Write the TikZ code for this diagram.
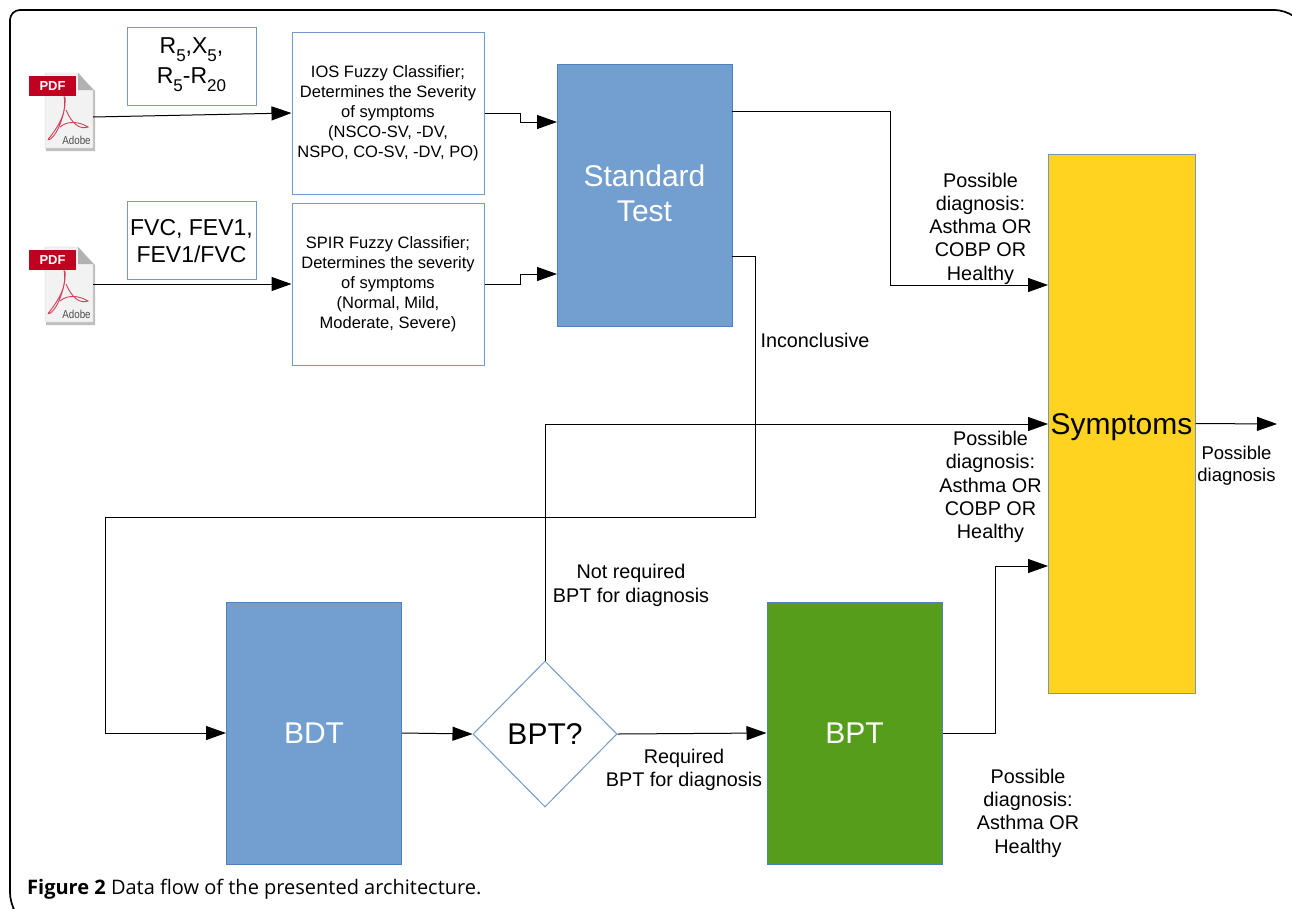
\documentclass[tikz,border=0pt]{standalone}
\usepackage{fontspec}
\setmainfont{Liberation Sans}
\newfontfamily\capfont{Open Sans}
\usetikzlibrary{arrows.meta,shapes.geometric}
\definecolor{boxblue}{HTML}{729FCF}
\definecolor{edgeblue}{HTML}{4F81BD}
\definecolor{symyellow}{HTML}{FFD320}
\definecolor{symedge}{HTML}{7B96AE}
\definecolor{bptgreen}{HTML}{579D1C}
\definecolor{pdfred}{HTML}{C00020}
\newcommand{\lowsub}[1]{\raisebox{-0.6ex}{\fontsize{17}{17}\selectfont #1}}
\tikzset{
	inbox/.style={draw=edgeblue!80,line width=1pt,fill=white,inner sep=0pt,align=center},
	classbox/.style={inbox,minimum width=192pt,minimum height=162pt,font=\fontsize{16.5}{20}\selectfont},
	valbox/.style={inbox,minimum width=129pt,minimum height=78pt,font=\fontsize{23}{27}\selectfont},
	bluebox/.style={draw=edgeblue,line width=1pt,fill=boxblue,text=white,inner sep=0pt,minimum width=175pt,minimum height=262pt,align=center,font=\fontsize{30}{35}\selectfont},
	label/.style={align=center,inner sep=0pt,font=\fontsize{19.8}{23.3}\selectfont},
	flow/.style={line width=1pt,-{Triangle[length=20pt,width=14pt]}},
	pdfdoc/.pic={
		\fill[black!25] (46,75) -- (80,75) -- (95,91) -- (95,151) -- (46,151) -- cycle;
		\filldraw[fill=black!5,draw=black!22] (45,73) -- (78,73) -- (93,90) -- (93,148) -- (45,148) -- cycle;
		\fill[black!30] (78,73) -- (93,90) -- (78,90) -- cycle;
		\draw[pdfred!75,line width=0.9pt] (64,96) .. controls (67,112) and (60,124) .. (50,137)
			.. controls (45,142) and (52,141) .. (58,129) .. controls (62,120) and (66,108) .. (65,97);
		\draw[pdfred!75,line width=0.9pt] (60,127) .. controls (68,120) and (80,122) .. (88,127)
			.. controls (80,130) and (72,124) .. (66,110);
		\fill[pdfred] (29,76) rectangle (76,96);
		\node[text=white,inner sep=0pt,font=\bfseries\fontsize{13}{13}\selectfont] (-tag) at (52.5,86) {PDF};
		\node[text=black!70,inner sep=0pt,xscale=0.85,font=\fontsize{11.5}{12}\selectfont] (-maker) at (76.5,140) {Adobe};
	}
}
\begin{document}
\begin{tikzpicture}[x=1pt,y=-1pt]
	\useasboundingbox (0,0) rectangle (1292,908);
	\draw[line width=1.7pt,rounded corners=10pt] (13,908) -- (10,903) -- (10,10) -- (1285,10) -- (1292,15);

	\pic (pdfa) at (0,0) {pdfdoc};
	\pic (pdfb) at (0,174) {pdfdoc};
	\coordinate (pdfaout) at (93,117);
	\coordinate (pdfbout) at (93,284);

	\node[valbox] (iosvals) at (191.5,66) {R\lowsub{5},X\lowsub{5},\\[3pt]R\lowsub{5}-R\lowsub{20}\rule[-10pt]{0pt}{0pt}};
	\node[valbox] (spirvals) at (191.5,240) {\rule{0pt}{18pt}FVC, FEV1,\\FEV1/FVC};
	\node[classbox] (ios) at (388,113) {IOS Fuzzy Classifier;\\Determines the Severity\\of symptoms\\(NSCO-SV, -DV,\\NSPO, CO-SV, -DV, PO)};
	\node[classbox] (spir) at (388,284) {SPIR Fuzzy Classifier;\\Determines the severity\\of symptoms\\(Normal, Mild,\\Moderate, Severe)};
	\node[bluebox] (std) at (644.5,195) {Standard\\Test\rule[-4pt]{0pt}{0pt}};
	\node[draw=symedge,line width=1pt,fill=symyellow,inner sep=0pt,minimum width=147pt,minimum height=539pt,font=\fontsize{30}{36}\selectfont] (sym) at (1121.5,423.5) {\raisebox{-3pt}[22pt][6pt]{Symptoms}};
	\node[bluebox] (bdt) at (314,733) {BDT};
	\node[bluebox,fill=bptgreen] (bpt) at (854.5,733) {BPT};
	\node[diamond,draw=edgeblue!80,line width=1pt,fill=white,inner sep=0pt,minimum width=144pt,minimum height=146pt,font=\fontsize{30}{36}\selectfont] (ask) at (545,734) {BPT?};

	\coordinate (stdina) at (557,122);
	\coordinate (stdinb) at (557,274);
	\coordinate (stdouta) at (732,111);
	\coordinate (stdoutb) at (732,256);
	\coordinate (symina) at (1048,285);
	\coordinate (syminb) at (1048,424);
	\coordinate (syminc) at (1048,566);
	\coordinate (symout) at (1277,424);

	\draw[flow] (pdfaout) -- (ios.west);
	\draw[flow] (pdfbout) -- (spir.west);
	\draw[flow] (ios.east) -- ++(36,0) |- (stdina);
	\draw[flow] (spir.east) -- ++(36,0) |- (stdinb);
	\draw[flow] (stdouta) -- ++(158,0) |- (symina);
	\draw[flow] (stdoutb) -- ++(23,0) -- ++(0,261) -- (105,517) |- (bdt.west);
	\draw[flow] (ask.north) |- (syminb);
	\draw[flow] (bdt.east) -- (ask.west);
	\draw[flow] (ask.east) -- (bpt.west);
	\draw[flow] (bpt.east) -- ++(53,0) |- (syminc);
	\draw[flow] (sym.east) -- (symout);

	\node[label] (diaga) at (980.5,228.5) {Possible\\diagnosis:\\Asthma OR\\COBP OR\\Healthy};
	\node[label] (diagb) at (990.5,487) {Possible\\diagnosis:\\Asthma OR\\COBP OR\\Healthy};
	\node[label] (diagc) at (1028,813) {Possible\\diagnosis:\\Asthma OR\\Healthy};
	\node[label,font=\fontsize{18.5}{22}\selectfont] (diagd) at (1236.5,466) {Possible\\diagnosis};
	\node[label] (inconc) at (815,340) {Inconclusive};
	\node[label] (notreq) at (631,585.5) {Not required\\BPT for diagnosis};
	\node[label] (req) at (684,770) {Required\\BPT for diagnosis};
	\node[anchor=west,inner sep=0pt,font=\capfont\fontsize{20}{22}\selectfont] (caption) at (27,889) {\textbf{Figure 2} Data flow of the presented architecture.};
\end{tikzpicture}
\end{document}
